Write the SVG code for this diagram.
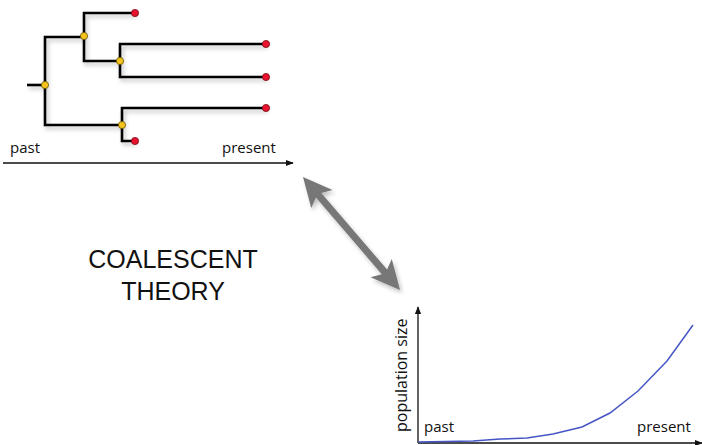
<svg xmlns="http://www.w3.org/2000/svg" width="702" height="445" viewBox="0 0 702 445">
<defs>
<style>
.br{fill:none;stroke:#000;stroke-width:2.6;stroke-linejoin:miter;stroke-linecap:butt}
.leaf{fill:#e8142f;stroke:#7a0a14;stroke-width:0.8}
.int{fill:#f3c41c;stroke:#6b5200;stroke-width:0.8}
.lbl{font-family:"Open Sans","DejaVu Sans",sans-serif;font-size:15px;fill:#111}
.title{font-family:"Liberation Sans",Arial,sans-serif;font-size:25px;fill:#111;text-anchor:middle}
.ax{stroke:#111;stroke-width:1.3;fill:none}
</style>
<filter id="sh" x="-20%" y="-20%" width="150%" height="150%">
<feDropShadow dx="2" dy="3" stdDeviation="2" flood-color="#000" flood-opacity="0.25"/>
</filter>
<marker id="ah" viewBox="0 0 10 10" refX="9" refY="5" markerWidth="8" markerHeight="8" markerUnits="userSpaceOnUse" orient="auto">
<path d="M0,1 L10,5 L0,9 Z" fill="#111"/>
</marker>
</defs>
<rect width="702" height="445" fill="#fff"/>

<g id="connectors" filter="url(#sh)">
<path class="br" d="M27,85 H45"/>
<path class="br" d="M84,37 H45 V125 H122"/>
<path class="br" d="M135,13 H84 V61 H120"/>
<path class="br" d="M266,44 H120 V77 H266"/>
<path class="br" d="M266,108 H122 V141 H135"/>
</g>

<g id="root" class="int"><circle cx="45" cy="85" r="3.6"/></g>
<g id="n1" class="int"><circle cx="84" cy="36" r="3.6"/></g>
<g id="n2" class="int"><circle cx="120" cy="61" r="3.6"/></g>
<g id="n3" class="int"><circle cx="122" cy="125" r="3.6"/></g>
<g id="leaf1" class="leaf"><circle cx="135" cy="13" r="3.6"/></g>
<g id="leaf2" class="leaf"><circle cx="266" cy="44" r="3.6"/></g>
<g id="leaf3" class="leaf"><circle cx="266" cy="77" r="3.6"/></g>
<g id="leaf4" class="leaf"><circle cx="266" cy="108" r="3.6"/></g>
<g id="leaf5" class="leaf"><circle cx="135" cy="141" r="3.6"/></g>

<g id="tree-axis">
<line class="ax" x1="3" y1="163" x2="293" y2="163" marker-end="url(#ah)"/>
<text class="lbl" x="10" y="153">past</text>
<text class="lbl" x="222" y="153">present</text>
</g>

<g id="double-arrow" filter="url(#sh)">
<polygon transform="translate(303,177) rotate(49.36)" fill="#777" points="0,0 29,-14 24,-3.5 125,-3.5 120,-14 149,0 120,14 125,3.5 24,3.5 29,14"/>
</g>

<g id="title">
<text class="title" x="173" y="268">COALESCENT</text>
<text class="title" x="173" y="300">THEORY</text>
</g>

<g id="graph">
<line class="ax" x1="418" y1="443" x2="418" y2="307" marker-end="url(#ah)"/>
<line class="ax" x1="418" y1="443" x2="702" y2="443" marker-end="url(#ah)"/>
<polyline fill="none" stroke="#4556c4" stroke-width="1.5" points="418,442 473,441 500,439 527,438 553,434 582,427 610,413 638,391 667,361 693,325"/>
<text class="lbl" transform="translate(407,432) rotate(-90)" style="font-size:16px">population size</text>
<text class="lbl" x="424" y="432">past</text>
<text class="lbl" x="637" y="432">present</text>
</g>
</svg>
